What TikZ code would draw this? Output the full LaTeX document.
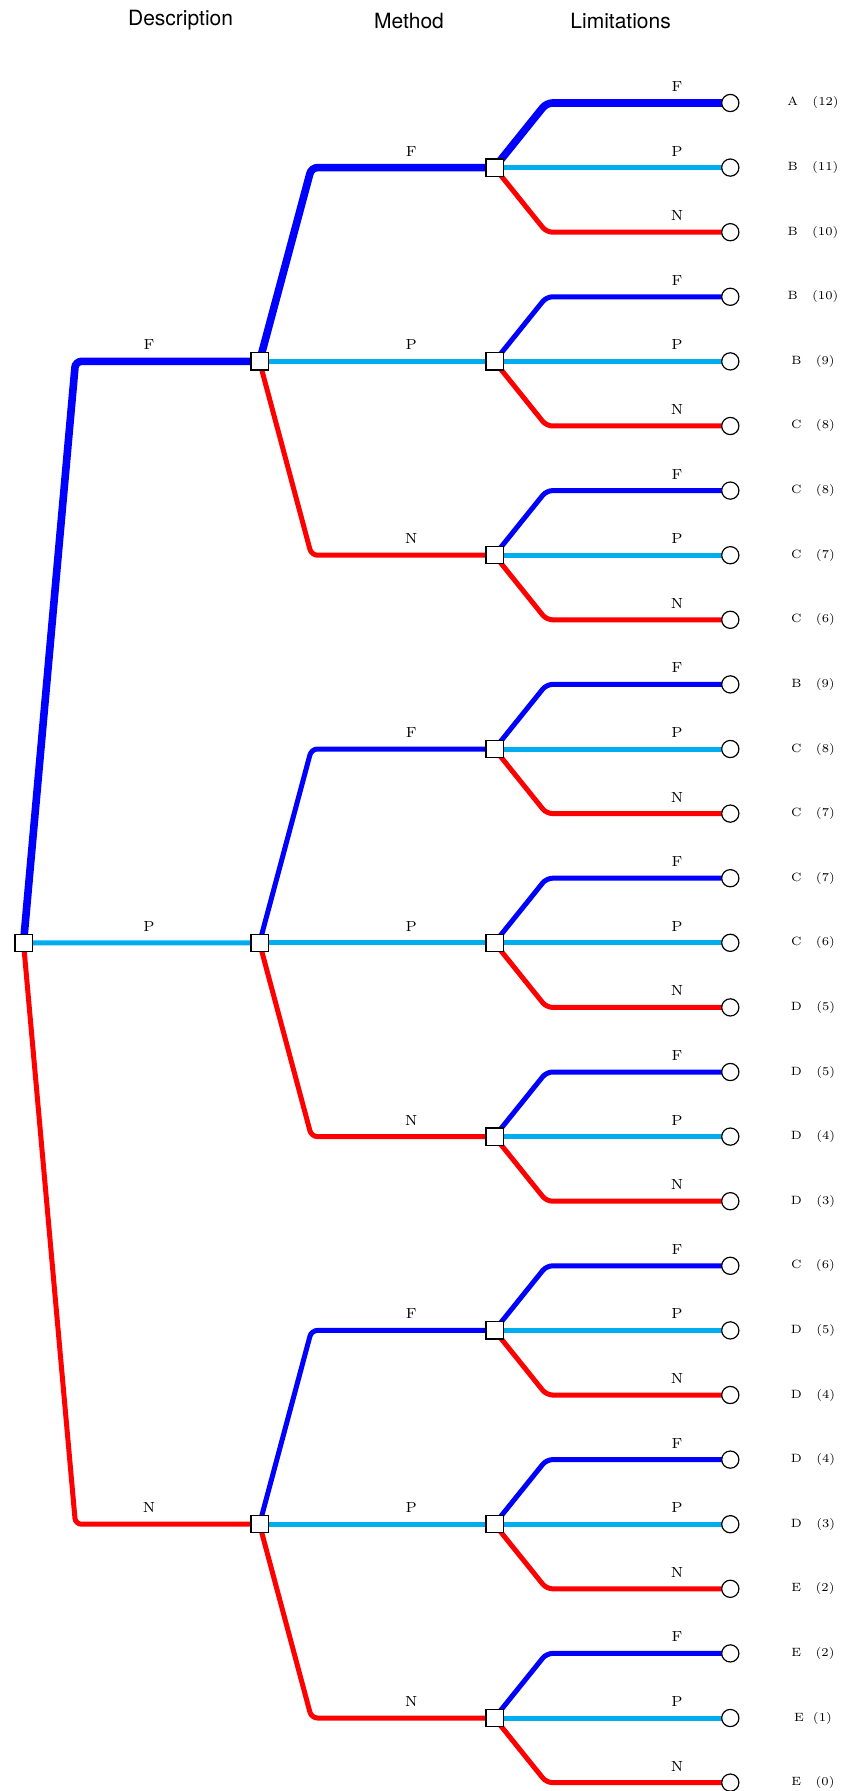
\documentclass[tikz,border=0pt]{standalone}
\usepackage{fontspec}
\newfontfamily\headfont{TeX Gyre Heros}
\usepackage{xcolor}
\usepackage{tikz}
\usetikzlibrary{positioning, backgrounds}

\definecolor{fullblue}{RGB}{0,0,255}
\definecolor{partcyan}{RGB}{0,174,239}
\definecolor{nonered}{RGB}{255,0,0}

\begin{document}
\begin{tikzpicture}[
    x=0.5pt, y=-0.5pt,
    choice/.style={rectangle, draw, fill=white, minimum size=8.6pt, inner sep=0pt, line width=0.6pt},
    outcome/.style={circle, draw, fill=white, minimum size=8.6pt, inner sep=0pt, line width=0.6pt},
    branch/.style={line width=2.5pt, rounded corners=3pt},
    best/.style={branch, line width=3.8pt},
    lbl/.style={font=\fontsize{7.3}{9}\selectfont, inner sep=0pt, above=4.5pt, text=black},
    score/.style={font=\fontsize{6}{7}\selectfont, inner sep=0pt},
    head/.style={font=\headfont\fontsize{10.5}{12}\selectfont, inner sep=0pt}
]
\useasboundingbox (0,0) rectangle (848,1791);

% Column titles
\node[head] (desc) at (180.6,20.6) {Description};
\node[head] (meth) at (409,20.6) {Method};
\node[head] (limit) at (620.6,20.6) {Limitations};

% Decision and outcome nodes
\node[choice] (root) at (23.5,942.8) {};
\foreach \i in {0,1,2} {
  \node[choice] (d\i) at (259.5,{103+64.6*(9*\i+4)}) {};
  \foreach \j in {0,1,2} {
    \node[choice] (d\i\j) at (494.5,{103+64.6*(9*\i+3*\j+1)}) {};
    \foreach \k in {0,1,2}
      \node[outcome] (o\i\j\k) at (730.3,{103+64.6*(9*\i+3*\j+\k)}) {};
  }
}

% Branches
\begin{scope}[on background layer]
\foreach \i/\ci/\ti in {0/fullblue/F,1/partcyan/P,2/nonered/N} {
  \draw[branch, \ci] (root.center) -- ([xshift=26pt]root.center |- d\i) -- node[lbl, pos=0.4] {\ti} (d\i.center);
  \foreach \j/\cj/\tj in {0/fullblue/F,1/partcyan/P,2/nonered/N} {
    \draw[branch, \cj] (d\i.center) -- ([xshift=26pt]d\i.center |- d\i\j) -- node[lbl, pos=0.545] {\tj} (d\i\j.center);
    \foreach \k/\ck/\tk in {0/fullblue/F,1/partcyan/P,2/nonered/N}
      \draw[branch, \ck] (d\i\j.center) -- ([xshift=26pt]d\i\j.center |- o\i\j\k) -- node[lbl, pos=0.71] {\tk} (o\i\j\k.center);
  }
}
% best path
\draw[best, fullblue] (root.center) -- ([xshift=26pt]root.center |- d0) -- (d0.center);
\draw[best, fullblue] (d0.center) -- ([xshift=26pt]d0.center |- d00) -- (d00.center);
\draw[best, fullblue] (d00.center) -- ([xshift=26pt]d00.center |- o000) -- (o000.center);
\end{scope}

% Scores
\foreach \m/\g/\s in {0/A/12,1/B/11,2/B/10,3/B/10,4/B/9,5/C/8,6/C/8,7/C/7,8/C/6,
    9/B/9,10/C/8,11/C/7,12/C/7,13/C/6,14/D/5,15/D/5,16/D/4,17/D/3,
    18/C/6,19/D/5,20/D/4,21/D/4,22/D/3,23/E/2,24/E/2,26/E/0}
  \node[score] (s\m) at (813,{103+64.6*\m}) {\g\hspace{1.2em}(\s)};
\node[score] (s25) at (813,{103+64.6*25}) {E\hspace{0.75em}(1)};

\end{tikzpicture}
\end{document}
